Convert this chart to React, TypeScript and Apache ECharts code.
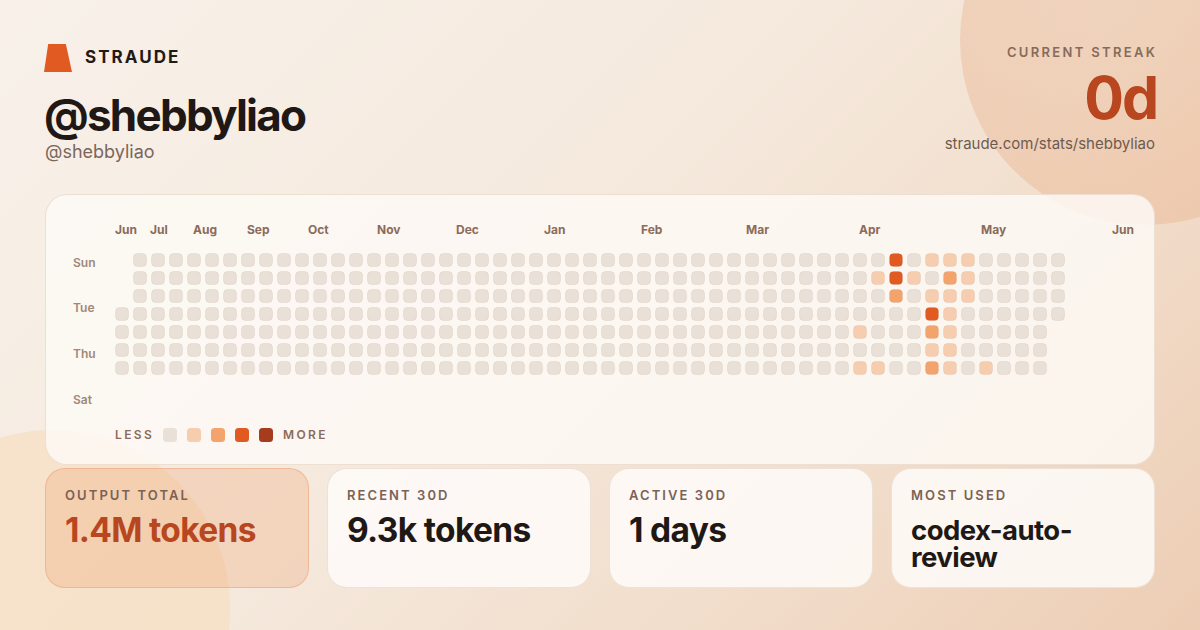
import React, { useEffect, useRef } from "react";
import * as echarts from "echarts";

// ---- data ----
const WEEK_COUNT = 53;
const DAY_NAMES = ["Sun", "Mon", "Tue", "Wed", "Thu", "Fri", "Sat"];
const FIRST_WEEK_START_DAY = 3; // first column starts on Wed
const LAST_WEEK_END_DAY = 3; // last column ends on Wed
// active days: week column, weekday row, intensity level
const activeWeek = [43, 45, 46, 47, 42, 43, 44, 46, 47, 43, 45, 46, 47, 45, 46, 41, 45, 46, 45, 46, 41, 42, 45, 46, 48];
const activeDay = [0, 0, 0, 0, 1, 1, 1, 1, 1, 2, 2, 2, 2, 3, 3, 4, 4, 4, 5, 5, 6, 6, 6, 6, 6];
const activeLevel = [3, 1, 1, 1, 1, 3, 1, 2, 1, 2, 1, 1, 1, 3, 1, 1, 2, 1, 1, 1, 1, 1, 2, 1, 1];
const LEVEL_COLORS = ["#e9e1d7", "#f7cdb0", "#f2a46c", "#e05a21", "#a63c1b"];
const monthLabels = ["Jun", "Jul", "Aug", "Sep", "Oct", "Nov", "Dec", "Jan", "Feb", "Mar", "Apr", "May", "Jun"];
const dayLabels = ["Sun", "Tue", "Thu", "Sat"];
const statLabels = ["OUTPUT TOTAL", "RECENT 30D", "ACTIVE 30D", "MOST USED"];
const statValues = ["1.4M tokens", "9.3k tokens", "1 days", "codex-auto-review"];

// ---- layout (pixels) ----
const MONTH_LABEL_X = [115, 150, 193, 247, 308, 377, 456, 544, 641, 746, 859, 981, 1112];
const MONTH_LABEL_Y = 229.5;
const DAY_LABEL_X = 73;
const DAY_LABEL_Y = [262, 307.5, 353, 399];

const FONT = "Inter, 'Noto Sans', sans-serif";

function buildCells() {
  const cells: number[][] = [];
  for (let w = 0; w < WEEK_COUNT; w++) {
    for (let d = 0; d < 7; d++) {
      if (w === 0 && d < FIRST_WEEK_START_DAY) continue;
      if (w === WEEK_COUNT - 1 && d > LAST_WEEK_END_DAY) continue;
      let level = 0;
      for (let i = 0; i < activeWeek.length; i++) {
        if (activeWeek[i] === w && activeDay[i] === d) level = activeLevel[i];
      }
      cells.push([w, d, level]);
    }
  }
  return cells;
}

function Heatmap() {
  const ref = useRef<HTMLDivElement>(null);
  useEffect(() => {
    if (!ref.current) return;
    const chart = echarts.init(ref.current, undefined, { renderer: "svg" });
    const weeks = Array.from({ length: WEEK_COUNT }, (_, i) => String(i));
    const graphic: any[] = [];
    monthLabels.forEach((m, i) => {
      graphic.push({
        type: "text",
        x: MONTH_LABEL_X[i],
        y: MONTH_LABEL_Y,
        silent: true,
        style: {
          text: m,
          fill: "#8b6b59",
          font: `700 12px ${FONT}`,
          align: "left",
          verticalAlign: "middle",
        },
      });
    });
    dayLabels.forEach((d, i) => {
      graphic.push({
        type: "text",
        x: DAY_LABEL_X,
        y: DAY_LABEL_Y[i],
        silent: true,
        style: {
          text: d,
          fill: "#9f8878",
          font: `600 12px ${FONT}`,
          align: "left",
          verticalAlign: "middle",
        },
      });
    });
    chart.setOption({
      animation: false,
      backgroundColor: "transparent",
      grid: { left: 113, top: 251, width: 954, height: 126 },
      xAxis: { type: "category", data: weeks, show: false, boundaryGap: true },
      yAxis: { type: "category", data: DAY_NAMES, show: false, inverse: true, boundaryGap: true },
      visualMap: {
        type: "piecewise",
        dimension: 2,
        seriesIndex: 0,
        orient: "horizontal",
        left: 163,
        top: 428,
        itemWidth: 14,
        itemHeight: 14,
        itemGap: 10,
        itemSymbol: "roundRect",
        showLabel: false,
        selectedMode: false,
        padding: 0,
        pieces: LEVEL_COLORS.map((c, i) => ({ value: i, color: c })),
      },
      graphic,
      series: [
        {
          type: "custom",
          data: buildCells(),
          encode: { x: 0, y: 1 },
          renderItem: (params: any, api: any) => {
            const c = api.coord([api.value(0), api.value(1)]);
            return {
              type: "rect",
              shape: { x: c[0] - 6.5, y: c[1] - 6.5, width: 13, height: 13, r: 4 },
              style: {
                fill: api.visual("color"),
                stroke: "rgba(140,100,70,0.09)",
                lineWidth: 1,
              },
            };
          },
        },
      ],
    });
    return () => chart.dispose();
  }, []);
  return <div ref={ref} style={{ position: "absolute", left: 0, top: 0, width: 1200, height: 630 }} />;
}

const abs = (s: React.CSSProperties): React.CSSProperties => ({ position: "absolute", whiteSpace: "nowrap", ...s });

export default function App() {
  const cardLefts = [45, 327, 609, 891];
  return (
    <div
      style={{
        position: "absolute",
        left: 0,
        top: 0,
        width: 1200,
        height: 630,
        overflow: "hidden",
        fontFamily: FONT,
        background: "linear-gradient(135deg, #f8f1ea 0%, #f5e9dd 45%, #f1dcc9 75%, #edcdb4 100%)",
      }}
    >
      {/* decorative circles */}
      <div
        style={abs({
          left: 1145 - 185,
          top: 40 - 185,
          width: 370,
          height: 370,
          borderRadius: "50%",
          background: "radial-gradient(circle at 40% 40%, rgba(238,200,172,0.55), rgba(234,186,152,0.6))",
        })}
      />
      <div
        style={abs({
          left: 52 - 178,
          top: 608 - 178,
          width: 356,
          height: 356,
          borderRadius: "50%",
          background: "rgba(247,218,182,0.5)",
        })}
      />

      {/* header left */}
      <div
        style={abs({
          left: 44,
          top: 44,
          width: 28,
          height: 28,
          background: "#e05a21",
          clipPath: "polygon(15% 0, 78% 0, 100% 100%, 0 100%)",
        })}
      />
      <div style={abs({ left: 85, top: 49, fontSize: 17, lineHeight: "17px", fontWeight: 700, letterSpacing: "0.12em", color: "#221a15" })}>
        STRAUDE
      </div>
      <div style={abs({ left: 44, top: 93, fontSize: 44, lineHeight: "44px", fontWeight: 700, letterSpacing: "-0.04em", color: "#1f1814" })}>
        @shebbyliao
      </div>
      <div style={abs({ left: 45, top: 142.7, fontSize: 18, lineHeight: "18px", fontWeight: 400, color: "#7a675c" })}>
        @shebbyliao
      </div>

      {/* header right */}
      <div style={abs({ right: 45, top: 46, fontSize: 13, lineHeight: "13px", fontWeight: 600, letterSpacing: "0.18em", marginRight: "-0.18em", color: "#876a5a", textAlign: "right" })}>
        CURRENT STREAK
      </div>
      <div style={abs({ right: 45, top: 67.5, fontSize: 59, lineHeight: "59px", fontWeight: 700, letterSpacing: "-0.035em", marginRight: "-0.035em", color: "#b8461e", textAlign: "right" })}>
        0d
      </div>
      <div style={abs({ right: 45, top: 136, fontSize: 15, lineHeight: "15px", fontWeight: 400, color: "#6e5b50", textAlign: "right" })}>
        straude.com/stats/shebbyliao
      </div>

      {/* heatmap card */}
      <div
        style={abs({
          left: 45,
          top: 194,
          width: 1110,
          height: 271,
          boxSizing: "border-box",
          borderRadius: 22,
          background: "rgba(253,249,244,0.86)",
          border: "1px solid rgba(236,222,208,0.95)",
        })}
      />
      <div style={abs({ left: 115, top: 429, fontSize: 12, lineHeight: "12px", fontWeight: 600, letterSpacing: "0.2em", color: "#8b6b59" })}>LESS</div>
      <div style={abs({ left: 283, top: 429, fontSize: 12, lineHeight: "12px", fontWeight: 600, letterSpacing: "0.2em", color: "#8b6b59" })}>MORE</div>

      {/* stat cards */}
      {statLabels.map((label, i) => {
        const first = i === 0;
        const long = statValues[i].length > 12;
        return (
          <div
            key={label}
            style={abs({
              left: cardLefts[i],
              top: 468,
              width: 264,
              height: 120,
              boxSizing: "border-box",
              borderRadius: 20,
              background: first ? "rgba(238,158,108,0.28)" : "rgba(254,251,248,0.88)",
              border: first ? "1px solid rgba(232,150,105,0.45)" : "1px solid rgba(236,224,212,0.95)",
            })}
          >
            <div style={abs({ left: 19, top: 19.5, fontSize: 13, lineHeight: "13px", fontWeight: 600, letterSpacing: "0.16em", color: "#7a6256" })}>
              {label}
            </div>
            <div
              style={abs({
                left: 19,
                top: long ? 47.5 : 44.8,
                width: long ? 195 : undefined,
                whiteSpace: long ? "normal" : "nowrap",
                fontSize: long ? 27.5 : 33.5,
                lineHeight: long ? "27px" : "33.5px",
                fontWeight: 700,
                letterSpacing: "-0.02em",
                color: first ? "#b8461e" : "#1f1915",
              })}
            >
              {statValues[i]}
            </div>
          </div>
        );
      })}

      <Heatmap />
    </div>
  );
}
